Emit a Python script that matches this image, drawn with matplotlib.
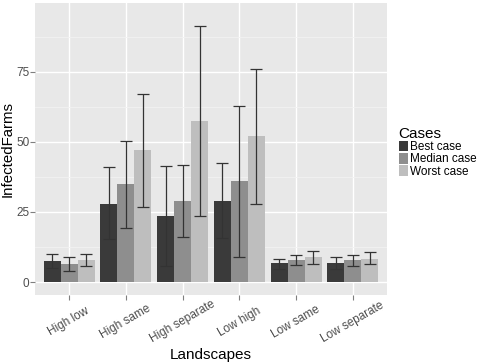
import numpy as np
import matplotlib
matplotlib.use("Agg")
import matplotlib.pyplot as plt

plt.rcParams['font.family'] = ['Liberation Sans', 'DejaVu Sans']

landscapes = ['High low', 'High same', 'High separate', 'Low high', 'Low same', 'Low separate']
cases = ['Best case', 'Median case', 'Worst case']
colors = ['#3a3a3a', '#8e8e8e', '#bebebe']

best = [7.5, 28.0, 23.5, 28.9, 6.7, 6.7]
best_lo = [5.2, 15.2, 5.7, 15.6, 4.8, 4.5]
best_hi = [9.9, 41.1, 41.4, 42.3, 8.4, 9.0]

median = [6.3, 34.9, 28.9, 35.9, 7.8, 7.8]
median_lo = [3.9, 19.4, 15.9, 8.8, 6.1, 5.8]
median_hi = [8.8, 50.4, 41.6, 62.9, 9.5, 9.5]

worst = [7.8, 47.0, 57.4, 52.0, 8.9, 8.4]
worst_lo = [5.8, 26.6, 23.4, 27.8, 6.3, 6.3]
worst_hi = [9.9, 67.2, 91.4, 75.8, 11.0, 10.6]

series = [(best, best_lo, best_hi), (median, median_lo, median_hi), (worst, worst_lo, worst_hi)]

fig = plt.figure(figsize=(4.83, 3.62), dpi=100)
ax = fig.add_axes([0.0725, 0.1843, 0.7285, 0.8067])
ax.set_facecolor('#e8e8e8')
for s in ax.spines.values():
    s.set_visible(False)

x = np.arange(1, len(landscapes) + 1)
w = 0.3
for i, (vals, lo, hi) in enumerate(series):
    xi = x + (i - 1) * w
    vals = np.array(vals)
    ax.bar(xi, vals, width=w, color=colors[i], label=cases[i], zorder=3)
    ax.errorbar(xi, vals, yerr=[vals - np.array(lo), np.array(hi) - vals],
                fmt='none', ecolor='#333333', elinewidth=0.9, capsize=4.5,
                capthick=0.9, zorder=4)

ax.set_xlim(0.4, 6.6)
ax.set_ylim(-4.7, 99.4)
ax.set_yticks([0, 25, 50, 75])
ax.set_yticks([12.5, 37.5, 62.5, 87.5], minor=True)
ax.set_xticks(x)
ax.set_xticklabels(landscapes, rotation=30, ha='center', va='center')
ax.grid(True, which='major', color='white', linewidth=1.0, zorder=0)
ax.grid(True, which='minor', axis='y', color='#f2f2f2', linewidth=0.6, zorder=0)
ax.set_axisbelow(True)
ax.tick_params(axis='both', which='major', length=3.5, color='#7f7f7f', width=0.8,
               labelsize=8.5, labelcolor='#4d4d4d')
ax.tick_params(axis='x', pad=15.7)
ax.tick_params(axis='y', pad=0.5)
ax.tick_params(which='minor', length=0)

ax.set_xlabel('Landscapes', fontsize=11, va='baseline')
ax.set_ylabel('InfectedFarms', fontsize=10.8, va='center')
ax.xaxis.set_label_coords(0.5, -0.218)
ax.yaxis.set_label_coords(-0.077, 0.5)

leg = ax.legend(title='Cases', loc='center left', bbox_to_anchor=(1.02, 0.49),
                frameon=False, fontsize=8.5, title_fontsize=11,
                handlelength=0.8, handleheight=1.0, handletextpad=0.2,
                labelspacing=0.0, borderaxespad=0)
leg._legend_box.align = 'left'

fig.savefig('out.png', dpi=100)
